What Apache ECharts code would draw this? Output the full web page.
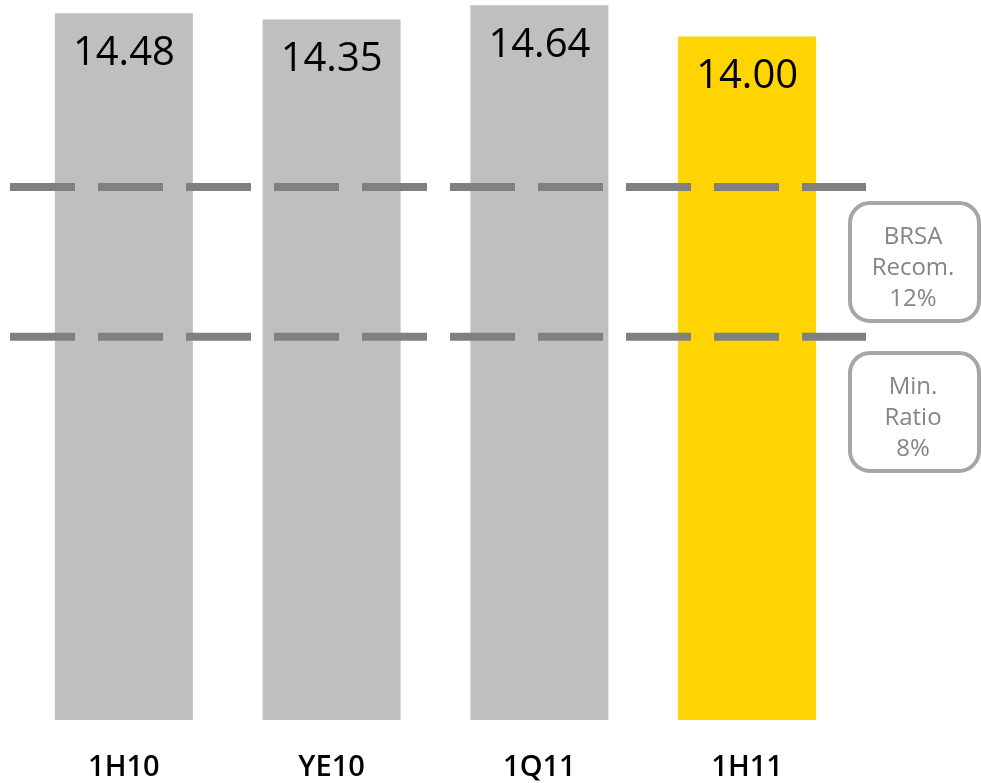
<!DOCTYPE html>
<html>
<head>
<meta charset="utf-8">
<script src="https://cdn.jsdelivr.net/npm/echarts@6/dist/echarts.min.js"></script>
<style>
  html, body { margin: 0; padding: 0; background: #fff; }
  #container { width: 981px; height: 783px; }
</style>
</head>
<body>
<div id="container"></div>
<script>
    // periods and capital adequacy ratio (%)
    var periods = ["1H10", "YE10", "1Q11", "1H11"];
    var ratios = [14.48, 14.35, 14.64, 14.00];
    var barColors = ["#bfbfbf", "#bfbfbf", "#bfbfbf", "#ffd400"];

    // reference lines (level as drawn on the picture) and their notes
    var refLevels = [10.92, 7.85];
    var refNotes = ["BRSA\nRecom.\n12%", "Min.\nRatio\n8%"];
    var noteTops = [201, 351];

    var myChart = echarts.init(document.getElementById("container"));

    var refSeries = refLevels.map(function(v) {
        return {
            type: "line",
            xAxisIndex: 1,
            yAxisIndex: 1,
            symbol: "none",
            silent: true,
            z: 5,
            lineStyle: { color: "#808080", width: 8, type: [65, 23], cap: "butt" },
            data: [[0, v], [1, v]]
        };
    });

    var notes = refNotes.map(function(txt, i) {
        return {
            type: "group",
            left: 848,
            top: noteTops[i],
            children: [
                {
                    type: "rect",
                    shape: { x: 2, y: 2, width: 129, height: 118, r: 20 },
                    style: { fill: "#fff", stroke: "#a6a6a6", lineWidth: 4 }
                },
                {
                    type: "text",
                    x: 65,
                    y: 67,
                    style: {
                        text: txt,
                        fill: "#858585",
                        font: "24px 'Open Sans'",
                        lineHeight: 31,
                        align: "center",
                        verticalAlign: "middle"
                    }
                }
            ]
        };
    });

    myChart.setOption({
        animation: false,
        grid: [
            { left: 20, right: 130, top: 0, bottom: 63 },
            { left: 10, right: 115, top: 0, bottom: 63 }
        ],
        xAxis: [
            {
                type: "category",
                gridIndex: 0,
                data: periods,
                axisLine: { show: false },
                axisTick: { show: false },
                axisLabel: {
                    margin: 33,
                    color: "#000",
                    fontSize: 29,
                    fontWeight: 600,
                    fontFamily: "Open Sans"
                }
            },
            { type: "value", gridIndex: 1, min: 0, max: 1, show: false }
        ],
        yAxis: [
            { type: "value", gridIndex: 0, min: 0, max: 14.75, show: false },
            { type: "value", gridIndex: 1, min: 0, max: 14.75, show: false }
        ],
        series: [
            {
                type: "bar",
                barWidth: 138,
                z: 2,
                data: ratios.map(function(v, i) {
                    return { value: v, itemStyle: { color: barColors[i] } };
                }),
                label: {
                    show: true,
                    position: "insideTop",
                    distance: 20,
                    color: "#000",
                    fontSize: 40,
                    fontFamily: "Open Sans",
                    formatter: function(p) { return p.value.toFixed(2); }
                }
            }
        ].concat(refSeries),
        graphic: notes
    });
</script>
</body>
</html>
